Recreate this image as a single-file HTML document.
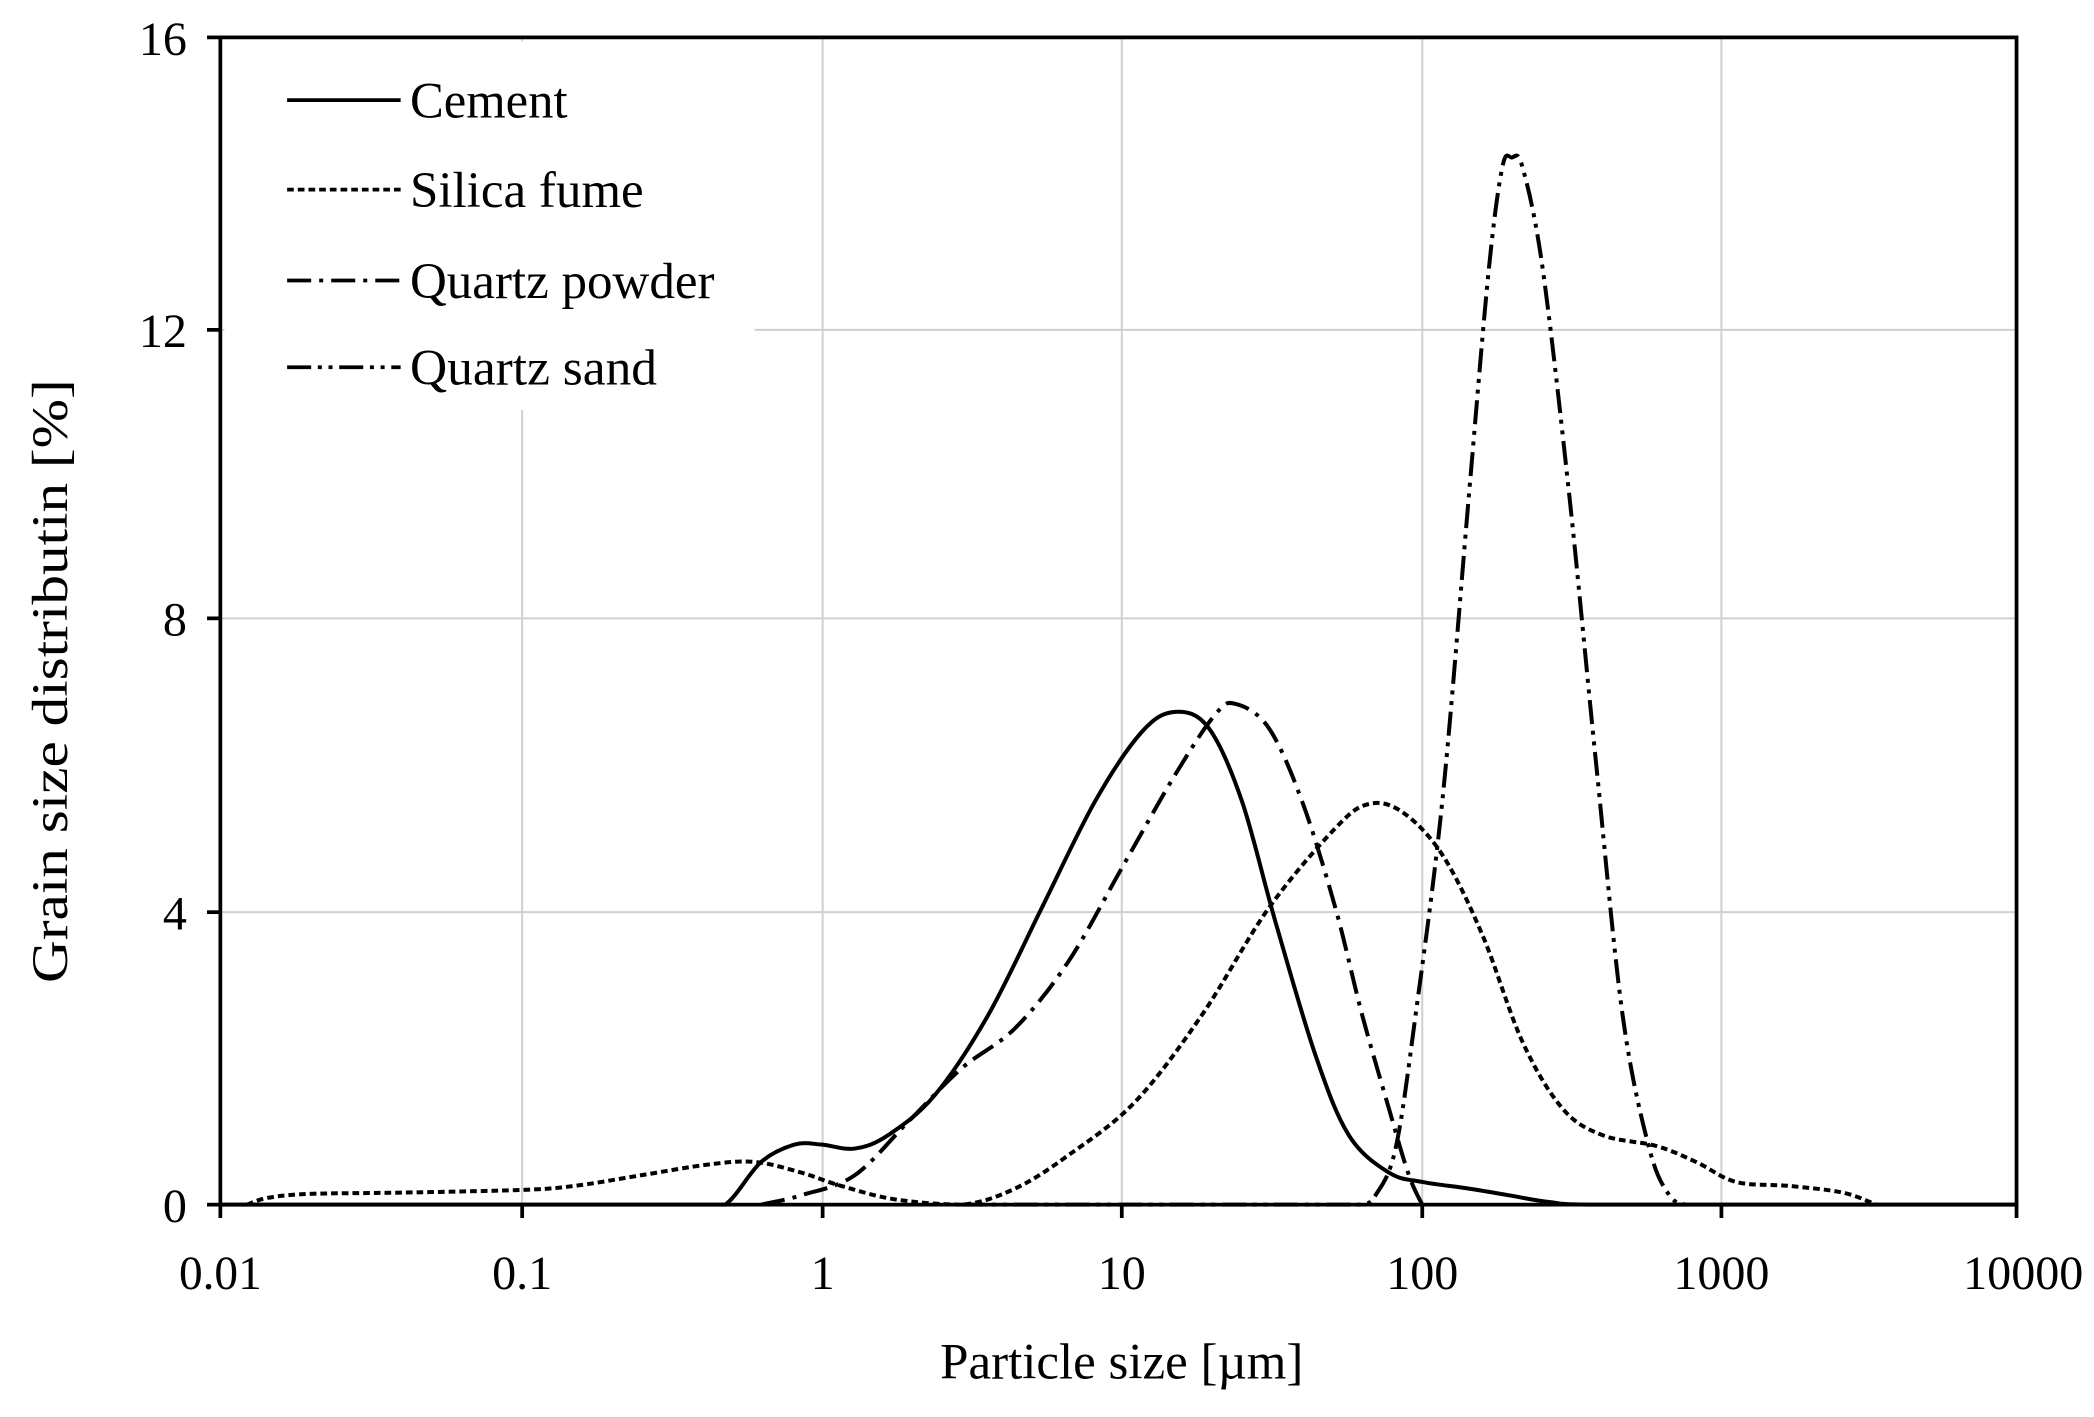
<!DOCTYPE html>
<html><head><meta charset="utf-8"><style>
html,body{margin:0;padding:0;background:#fff;}
svg{display:block;}
text{font-family:"Liberation Serif","DejaVu Serif",serif;fill:#000;}
</style></head><body>
<svg id="s" width="2094" height="1417" viewBox="0 0 1568 1061" preserveAspectRatio="none" xmlns="http://www.w3.org/2000/svg">
<rect width="1568" height="1061" fill="#fff"/>
<g stroke="#d0d0d0" stroke-width="1.5">
<line x1="391" y1="28" x2="391" y2="902"/>
<line x1="616" y1="28" x2="616" y2="902"/>
<line x1="840" y1="28" x2="840" y2="902"/>
<line x1="1065" y1="28" x2="1065" y2="902"/>
<line x1="1289" y1="28" x2="1289" y2="902"/>
<line x1="165" y1="683" x2="1510" y2="683"/>
<line x1="165" y1="463" x2="1510" y2="463"/>
<line x1="165" y1="247" x2="1510" y2="247"/>
</g>
<rect x="168" y="31" width="397" height="276" fill="#fff"/>
<g fill="none" stroke="#000" stroke-width="3" stroke-linejoin="round" stroke-linecap="butt">
<polyline class="c" points="165,902 520,902 543,902 570,870 595,857 615,857 640,860 665,850 700,820 740,760 780,680 820,600 855,548 880,533 905,545 930,600 955,690 985,790 1010,850 1040,878 1065,885 1100,890 1130,895 1160,900 1200,902 1510,902"/>
<polyline class="c" stroke-dasharray="5,3" points="185,902 200,897 230,894 300,893 390,891 430,888 480,880 530,872 565,870 600,878 630,888 670,898 720,902 760,890 800,865 850,825 900,760 950,680 1000,620 1025,602 1050,608 1080,640 1110,700 1140,780 1170,830 1200,850 1240,858 1270,870 1300,885 1340,888 1380,893 1405,902"/>
<polyline class="c" stroke-dasharray="18,6,3,6" points="570,902 600,895 640,880 680,840 720,800 760,770 800,720 840,650 880,580 910,535 925,527 950,545 975,600 1000,680 1020,760 1040,830 1055,880 1065,902"/>
<polyline class="c" stroke-dasharray="18,5,3,5,3,5" points="720,902 1005,902 1020,902 1030,895 1045,860 1060,760 1080,600 1100,370 1115,200 1125,125 1132,118 1140,125 1155,200 1175,370 1195,570 1215,760 1235,860 1250,895 1262,902"/>
</g>
<g stroke="#000" stroke-width="2.8" fill="none">
<rect x="165" y="28" width="1345" height="874"/>
<line x1="155" y1="28" x2="165" y2="28"/><line x1="155" y1="247" x2="165" y2="247"/>
<line x1="155" y1="463" x2="165" y2="463"/><line x1="155" y1="683" x2="165" y2="683"/>
<line x1="155" y1="902" x2="165" y2="902"/>
<line x1="165" y1="902" x2="165" y2="912"/><line x1="391" y1="902" x2="391" y2="912"/>
<line x1="616" y1="902" x2="616" y2="912"/><line x1="840" y1="902" x2="840" y2="912"/>
<line x1="1065" y1="902" x2="1065" y2="912"/><line x1="1289" y1="902" x2="1289" y2="912"/>
<line x1="1510" y1="902" x2="1510" y2="912"/>
<line x1="215" y1="75" x2="300" y2="75"/>
<line x1="215" y1="142" x2="300" y2="142" stroke-dasharray="5,3"/>
<line x1="215" y1="210" x2="300" y2="210" stroke-dasharray="18,6,3,6"/>
<line x1="215" y1="275" x2="300" y2="275" stroke-dasharray="18,5,3,5,3,5"/>
</g>
<g font-size="38">
<text x="307" y="88" textLength="118" lengthAdjust="spacingAndGlyphs">Cement</text>
<text x="307" y="155" textLength="175" lengthAdjust="spacingAndGlyphs">Silica fume</text>
<text x="307" y="223" textLength="228" lengthAdjust="spacingAndGlyphs">Quartz powder</text>
<text x="307" y="288" textLength="185" lengthAdjust="spacingAndGlyphs">Quartz sand</text>
</g>
<g font-size="36" text-anchor="end">
<text x="140" y="41">16</text><text x="140" y="260">12</text>
<text x="140" y="476">8</text><text x="140" y="696">4</text><text x="140" y="915">0</text>
</g>
<g font-size="36" text-anchor="middle">
<text x="165" y="965" textLength="62" lengthAdjust="spacingAndGlyphs">0.01</text>
<text x="391" y="965">0.1</text>
<text x="616" y="965">1</text>
<text x="840" y="965">10</text>
<text x="1065" y="965">100</text>
<text x="1289" y="965">1000</text>
<text x="1515" y="965" textLength="90" lengthAdjust="spacingAndGlyphs">10000</text>
</g>
<text x="840" y="1032" font-size="38" text-anchor="middle" textLength="272" lengthAdjust="spacingAndGlyphs">Particle size [µm]</text>
<text transform="translate(50,510) rotate(-90)" font-size="38" text-anchor="middle" textLength="452" lengthAdjust="spacingAndGlyphs">Grain size distributin [%]</text>
</svg>
<script>
(function(){
var ns="http://www.w3.org/2000/svg";
function cl(v,a,b){var lo=Math.min(a,b),hi=Math.max(a,b);return Math.max(lo,Math.min(hi,v));}
document.querySelectorAll("polyline.c").forEach(function(pl){
 var p=pl.getAttribute("points").trim().split(/\s+/).map(function(s){return s.split(",").map(Number);});
 var d="M"+p[0][0]+","+p[0][1];
 for(var i=0;i<p.length-1;i++){
  var p0=p[i-1]||p[i],p1=p[i],p2=p[i+1],p3=p[i+2]||p2;
  var c1x=cl(p1[0]+(p2[0]-p0[0])/6,p1[0],p2[0]),c1y=p1[1]+(p2[1]-p0[1])/6;
  var c2x=cl(p2[0]-(p3[0]-p1[0])/6,p1[0],p2[0]),c2y=p2[1]-(p3[1]-p1[1])/6;
  c1y=Math.min(c1y,902);c2y=Math.min(c2y,902);
  d+=" C"+c1x.toFixed(1)+","+c1y.toFixed(1)+" "+c2x.toFixed(1)+","+c2y.toFixed(1)+" "+p2[0]+","+p2[1];
 }
 var path=document.createElementNS(ns,"path");
 path.setAttribute("d",d);
 var da=pl.getAttribute("stroke-dasharray");if(da)path.setAttribute("stroke-dasharray",da);
 pl.parentNode.replaceChild(path,pl);
});
})();
</script>
</body></html>
